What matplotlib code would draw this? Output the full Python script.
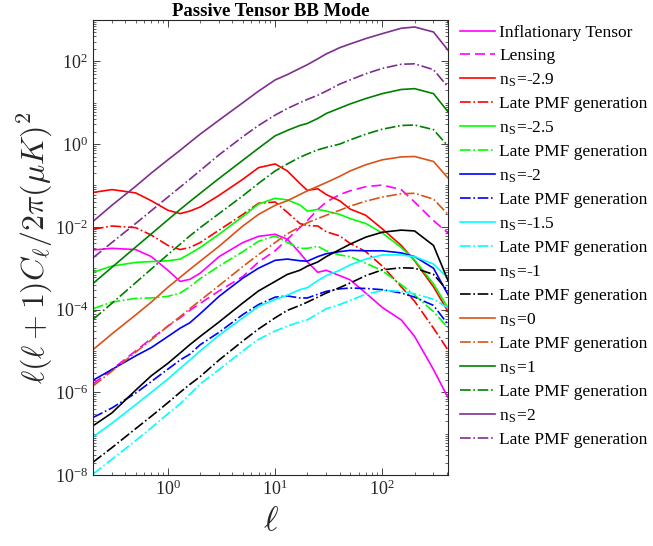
import numpy as np
import matplotlib
matplotlib.use("Agg")
import matplotlib.pyplot as plt
from matplotlib.ticker import LogLocator, NullFormatter

plt.rcParams['font.family'] = ['Liberation Serif', 'DejaVu Serif']
plt.rcParams['mathtext.fontset'] = 'cm'

# multipoles shared by all curves
ell = [0.2, 0.3, 0.5, 0.7, 1, 1.3, 1.6, 2, 3, 5, 7, 10, 13, 17, 20, 25, 30, 40, 50, 70, 100, 150, 200, 300, 410]

# log10 of l(l+1)C_l/2pi
infl_tensor = [-2.56, -2.52, -2.55, -2.72, -3.05, -3.32, -3.27, -3.12, -2.72, -2.38, -2.23, -2.18, -2.30, -2.63, -2.85, -3.10, -3.05, -3.18, -3.28, -3.60, -3.95, -4.25, -4.65, -5.45, -6.13]
lensing = [-5.80, -5.45, -5.00, -4.70, -4.40, -4.20, -4.02, -3.85, -3.55, -3.20, -2.85, -2.58, -2.30, -2.02, -1.85, -1.58, -1.40, -1.22, -1.13, -1.03, -0.99, -1.10, -1.40, -1.85, -2.15]
ns_m29 = [-1.17, -1.10, -1.18, -1.37, -1.60, -1.68, -1.62, -1.52, -1.24, -0.85, -0.57, -0.48, -0.65, -0.95, -1.12, -1.08, -1.22, -1.37, -1.57, -1.72, -2.05, -2.45, -2.82, -3.45, -4.05]
ns_m29_late = [-2.06, -1.98, -2.02, -2.20, -2.45, -2.55, -2.50, -2.38, -2.08, -1.70, -1.43, -1.40, -1.65, -1.92, -1.97, -1.98, -2.12, -2.22, -2.40, -2.60, -2.95, -3.45, -3.80, -4.45, -4.98]
ns_m25 = [-3.10, -2.95, -2.86, -2.84, -2.82, -2.78, -2.65, -2.50, -2.18, -1.75, -1.45, -1.31, -1.35, -1.47, -1.62, -1.58, -1.62, -1.70, -1.80, -1.92, -2.15, -2.50, -2.80, -3.38, -3.96]
ns_m25_late = [-3.98, -3.82, -3.73, -3.72, -3.68, -3.60, -3.45, -3.25, -2.95, -2.60, -2.35, -2.22, -2.38, -2.52, -2.52, -2.47, -2.58, -2.68, -2.72, -2.88, -3.06, -3.40, -3.65, -4.05, -4.44]
ns_m2 = [-5.71, -5.45, -5.12, -4.92, -4.65, -4.45, -4.32, -4.10, -3.68, -3.24, -3.00, -2.81, -2.78, -2.82, -2.83, -2.72, -2.65, -2.60, -2.57, -2.58, -2.58, -2.63, -2.72, -3.00, -3.64]
ns_m2_late = [-6.61, -6.38, -6.02, -5.74, -5.44, -5.22, -5.08, -4.85, -4.55, -4.12, -3.88, -3.70, -3.67, -3.72, -3.72, -3.63, -3.56, -3.50, -3.48, -3.49, -3.52, -3.60, -3.70, -3.90, -4.36]
ns_m15 = [-7.08, -6.75, -6.30, -6.00, -5.68, -5.42, -5.22, -5.00, -4.62, -4.20, -3.92, -3.76, -3.65, -3.52, -3.47, -3.30, -3.18, -3.05, -2.92, -2.78, -2.68, -2.68, -2.72, -2.90, -3.24]
ns_m15_late = [-7.98, -7.62, -7.17, -6.86, -6.52, -6.28, -6.05, -5.80, -5.45, -5.00, -4.72, -4.52, -4.40, -4.30, -4.25, -4.10, -3.98, -3.88, -3.78, -3.63, -3.54, -3.56, -3.62, -3.75, -3.96]
ns_m1 = [-6.81, -6.50, -5.95, -5.60, -5.30, -5.05, -4.85, -4.65, -4.30, -3.84, -3.55, -3.32, -3.15, -3.05, -2.95, -2.85, -2.72, -2.55, -2.42, -2.25, -2.13, -2.08, -2.10, -2.45, -3.30]
ns_m1_late = [-7.69, -7.34, -6.88, -6.58, -6.25, -6.00, -5.81, -5.62, -5.22, -4.76, -4.47, -4.20, -4.02, -3.90, -3.82, -3.70, -3.60, -3.47, -3.36, -3.18, -3.04, -2.99, -3.00, -3.15, -3.55]
ns_0 = [-4.97, -4.59, -4.13, -3.82, -3.46, -3.22, -3.03, -2.83, -2.47, -1.98, -1.70, -1.48, -1.37, -1.22, -1.13, -1.02, -0.93, -0.78, -0.65, -0.50, -0.38, -0.31, -0.30, -0.42, -0.82]
ns_0_late = [-5.85, -5.49, -5.03, -4.73, -4.40, -4.17, -3.98, -3.78, -3.42, -2.96, -2.67, -2.38, -2.17, -2.00, -1.90, -1.80, -1.72, -1.60, -1.50, -1.38, -1.28, -1.20, -1.19, -1.33, -1.70]
ns_1 = [-3.37, -2.98, -2.49, -2.17, -1.83, -1.58, -1.39, -1.19, -0.83, -0.39, -0.10, 0.20, 0.33, 0.45, 0.50, 0.62, 0.74, 0.87, 0.97, 1.10, 1.22, 1.32, 1.34, 1.22, 0.78]
ns_1_late = [-4.24, -3.85, -3.35, -3.02, -2.67, -2.42, -2.22, -2.02, -1.68, -1.25, -0.95, -0.65, -0.48, -0.32, -0.24, -0.14, -0.08, 0.00, 0.10, 0.24, 0.36, 0.45, 0.46, 0.35, -0.05]
ns_2 = [-1.87, -1.48, -1.02, -0.70, -0.38, -0.15, 0.04, 0.24, 0.58, 1.00, 1.28, 1.55, 1.68, 1.83, 1.92, 2.06, 2.18, 2.33, 2.42, 2.55, 2.67, 2.80, 2.83, 2.71, 2.27]
ns_2_late = [-2.75, -2.38, -1.92, -1.61, -1.28, -1.04, -0.85, -0.64, -0.26, 0.18, 0.45, 0.70, 0.86, 1.00, 1.08, 1.18, 1.28, 1.45, 1.55, 1.70, 1.83, 1.93, 1.94, 1.80, 1.38]

late = 'Late PMF generation'
curves = [
    (infl_tensor, '#FF00FF', '-', 'Inflationary Tensor'),
    (lensing, '#FF00FF', (0, (6, 3)), 'Lensing'),
    (ns_m29, '#FF0000', '-', r'n$_{\mathdefault{S}}$=-2.9'),
    (ns_m29_late, '#FF0000', '-.', late),
    (ns_m25, '#00FF00', '-', r'n$_{\mathdefault{S}}$=-2.5'),
    (ns_m25_late, '#00FF00', '-.', late),
    (ns_m2, '#0000FF', '-', r'n$_{\mathdefault{S}}$=-2'),
    (ns_m2_late, '#0000FF', '-.', late),
    (ns_m15, '#00FFFF', '-', r'n$_{\mathdefault{S}}$=-1.5'),
    (ns_m15_late, '#00FFFF', '-.', late),
    (ns_m1, '#000000', '-', r'n$_{\mathdefault{S}}$=-1'),
    (ns_m1_late, '#000000', '-.', late),
    (ns_0, '#D95319', '-', r'n$_{\mathdefault{S}}$=0'),
    (ns_0_late, '#D95319', '-.', late),
    (ns_1, '#008000', '-', r'n$_{\mathdefault{S}}$=1'),
    (ns_1_late, '#008000', '-.', late),
    (ns_2, '#7E2F8E', '-', r'n$_{\mathdefault{S}}$=2'),
    (ns_2_late, '#7E2F8E', '-.', late),
]

fig = plt.figure(figsize=(6.53, 5.46), dpi=100)
ax = fig.add_axes([0.1424, 0.130, 0.5437, 0.8334])

for vals, col, ls, lab in curves:
    ax.plot(ell, 10 ** np.array(vals), color=col, linestyle=ls, lw=1.2, label=lab)

ax.set_xscale('log')
ax.set_yscale('log')
ax.set_xlim(0.2, 410)
ax.set_ylim(1e-8, 1e3)

ax.set_yticks([1e-8, 1e-6, 1e-4, 1e-2, 1e0, 1e2])
ax.yaxis.set_minor_locator(LogLocator(base=10, subs=np.arange(1, 10), numticks=50))
ax.yaxis.set_minor_formatter(NullFormatter())
ax.set_xticks([1e0, 1e1, 1e2])
ax.xaxis.set_minor_locator(LogLocator(base=10, subs=np.arange(2, 10), numticks=50))
ax.xaxis.set_minor_formatter(NullFormatter())

ax.tick_params(which='both', direction='in', top=True, right=True, colors='#262626', labelsize=13)
ax.tick_params(which='major', length=5, width=0.6)
ax.tick_params(which='minor', length=2.5, width=0.5)
for sp in ax.spines.values():
    sp.set_color('#262626')
    sp.set_linewidth(0.8)

ax.set_title('Passive Tensor BB Mode', fontweight='bold', fontsize=13.5, pad=3)
ax.set_ylabel(r'$\ell(\ell+1)C_\ell/2\pi(\mu K)^2$', fontsize=23, labelpad=0, color='#262626')
ax.set_xlabel(r'$\ell$', fontsize=25, labelpad=4, color='#262626')

ax.legend(loc='upper left', bbox_to_anchor=(1.005, 1.012), frameon=False, fontsize=12.5,
          handlelength=2.0, handletextpad=0.25, labelspacing=0.40, borderaxespad=0.2)

fig.savefig('out.png', dpi=100)
